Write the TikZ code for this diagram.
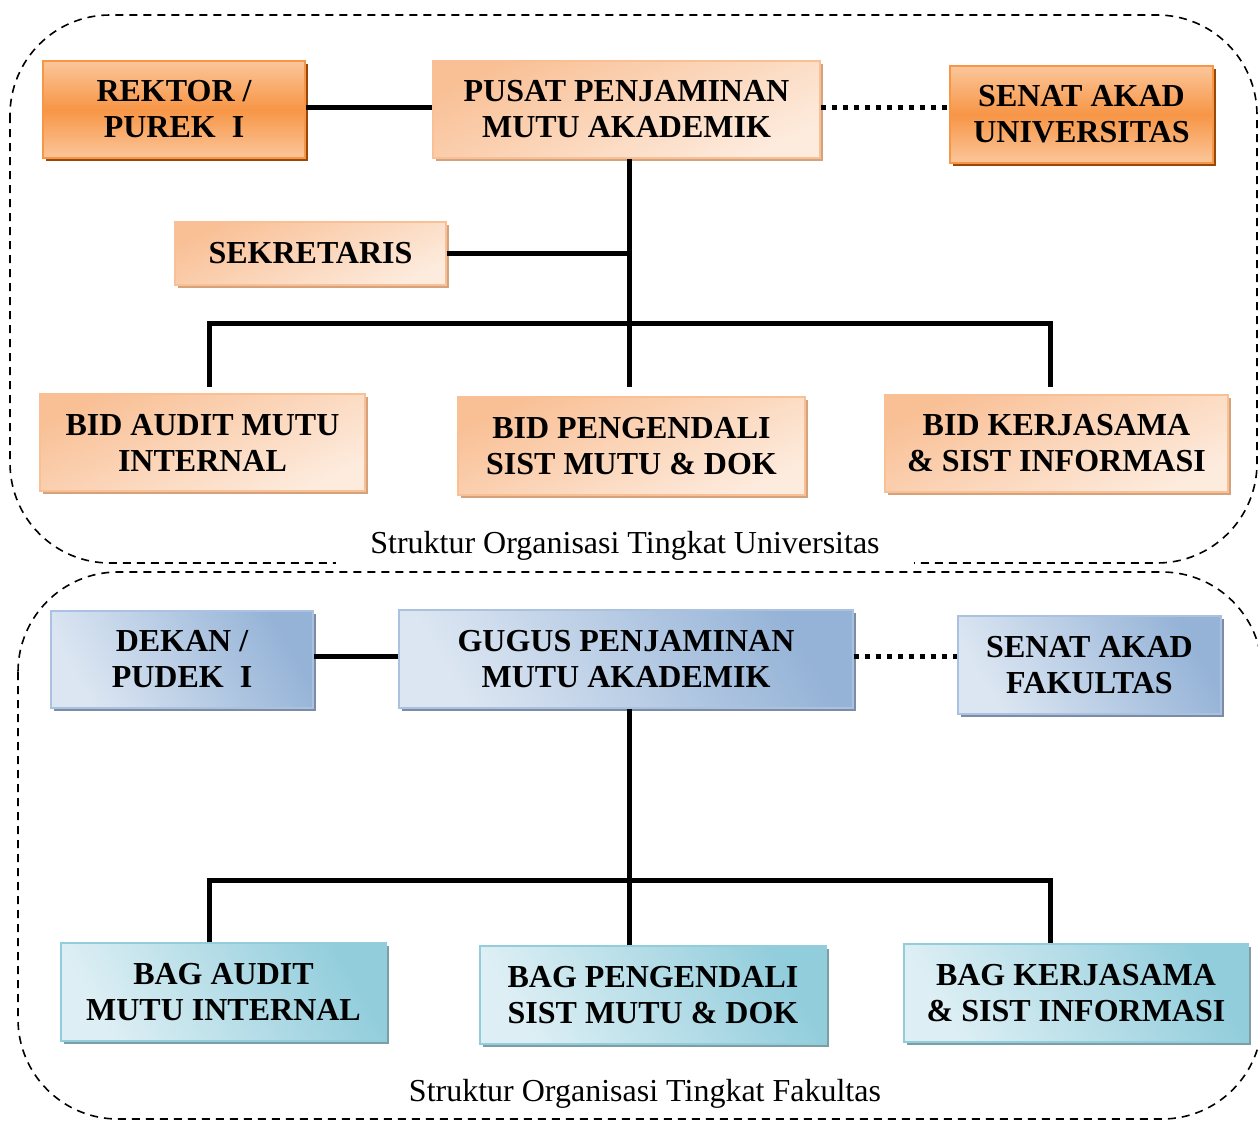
\documentclass[tikz,border=0pt]{standalone}
\usepackage{fontspec}
\setmainfont{Liberation Serif}[BoldFont={Liberation Serif Bold}]
\usetikzlibrary{shadows}
\definecolor{orgA}{HTML}{F79646}
\definecolor{orgL}{HTML}{FBC69A}
\definecolor{orgS}{HTML}{984807}
\definecolor{pchD}{HTML}{F9C096}
\definecolor{pchL}{HTML}{FDEBDD}
\definecolor{pchS}{HTML}{D6A27C}
\definecolor{bluD}{HTML}{95B3D7}
\definecolor{bluL}{HTML}{DCE6F2}
\definecolor{bluS}{HTML}{7D8CA6}
\definecolor{aquD}{HTML}{92CDDC}
\definecolor{aquL}{HTML}{DDEFF4}
\definecolor{aquS}{HTML}{7E9EA6}
\tikzset{
  box/.style={inner sep=0pt, align=center, font=\bfseries\fontsize{16}{18}\selectfont, text=black, line width=0.6pt},
  orgbox/.style={box, draw=orgA, top color=orgL, bottom color=orgL, middle color=orgA,
    general shadow={fill=orgS, shadow xshift=1.6pt, shadow yshift=-1.6pt}},
  pchbox/.style={box, draw=pchD, shading=axis, top color=pchD, bottom color=pchL, shading angle=25,
    general shadow={fill=pchS, shadow xshift=1.6pt, shadow yshift=-1.6pt}},
  blubox/.style={box, draw=bluD!80, shading=axis, top color=bluD, bottom color=bluL, shading angle=-60,
    general shadow={fill=bluS, shadow xshift=1.6pt, shadow yshift=-1.6pt}},
  aqubox/.style={box, draw=aquD, shading=axis, top color=aquD, bottom color=aquL, shading angle=-60,
    general shadow={fill=aquS, shadow xshift=1.6pt, shadow yshift=-1.6pt}},
  link/.style={line width=2.5pt, black},
  dotlink/.style={line width=2.5pt, black, dash pattern=on 2.5pt off 3pt},
  frame/.style={line width=0.8pt, dash pattern=on 4pt off 3pt, rounded corners=50pt},
  caption/.style={font=\fontsize{16}{18}\selectfont, inner xsep=17pt, inner ysep=4pt}
}
\begin{document}
\begin{tikzpicture}[x=0.5pt,y=-0.5pt]
\useasboundingbox (0,0) rectangle (1258,1120);
% frames
\draw[frame] (10,15) rectangle (1257,563);
\draw[frame] (18,572) rectangle (1262,1119);
\node[caption, fill=white] (cap1) at (625,546) {Struktur Organisasi Tingkat Universitas};
\node[caption] (cap2) at (645,1094) {Struktur Organisasi Tingkat Fakultas};
% university level
\node[orgbox, minimum width=131pt, minimum height=48.5pt] (rektor) at (174,109.5) {REKTOR /\\PUREK\ \ I};
\node[pchbox, minimum width=193.5pt, minimum height=48.5pt] (pusat) at (626.5,109.5) {PUSAT PENJAMINAN\\MUTU AKADEMIK};
\node[orgbox, minimum width=131.5pt, minimum height=48.5pt] (senatu) at (1081.5,114.5) {SENAT AKAD\\UNIVERSITAS};
\node[pchbox, minimum width=135.5pt, minimum height=31.5pt] (sek) at (310.5,253.5) {SEKRETARIS};
\node[pchbox, minimum width=162.5pt, minimum height=48.5pt] (bid1) at (202.5,442.5) {BID AUDIT MUTU\\INTERNAL};
\node[pchbox, minimum width=173.5pt, minimum height=49pt] (bid2) at (631.5,446) {BID PENGENDALI\\SIST MUTU \& DOK};
\node[pchbox, minimum width=171.5pt, minimum height=48.5pt] (bid3) at (1056.5,443.5) {BID KERJASAMA\\\& SIST INFORMASI};
\coordinate (ju) at (629,323);
\coordinate (jul) at (209,323);
\coordinate (jur) at (1050,323);
\draw[link] (rektor.east |- 0,107) -- (pusat.west |- 0,107);
\draw[dotlink] (pusat.east |- 0,107) -- (senatu.west |- 0,107);
\draw[link] (pusat.south -| ju) -- (ju |- 0,387);
\draw[link] (sek.east) -- (sek.east -| ju);
\draw[link] (jul |- 0,387) -- (jul) -- (jur) -- (jur |- 0,387);
% faculty level
\node[blubox, minimum width=131pt, minimum height=48.5pt] (dekan) at (182,659.5) {DEKAN /\\PUDEK\ \ I};
\node[blubox, minimum width=227pt, minimum height=49pt] (gugus) at (626,659) {GUGUS PENJAMINAN\\MUTU AKADEMIK};
\node[blubox, minimum width=131.5pt, minimum height=49pt] (senatf) at (1089.5,665) {SENAT AKAD\\FAKULTAS};
\node[aqubox, minimum width=162.5pt, minimum height=49pt] (bag1) at (223.5,992) {BAG AUDIT\\MUTU INTERNAL};
\node[aqubox, minimum width=173pt, minimum height=49pt] (bag2) at (653,995) {BAG PENGENDALI\\SIST MUTU \& DOK};
\node[aqubox, minimum width=172pt, minimum height=49pt] (bag3) at (1076,993) {BAG KERJASAMA\\\& SIST INFORMASI};
\coordinate (jf) at (629,880);
\coordinate (jfl) at (209,880);
\coordinate (jfr) at (1050,880);
\draw[link] (dekan.east |- 0,656) -- (gugus.west |- 0,656);
\draw[dotlink] (gugus.east |- 0,656) -- (senatf.west |- 0,656);
\draw[link] (gugus.south -| jf) -- (jf |- bag2.north);
\draw[link] (jfl |- bag1.north) -- (jfl) -- (jfr) -- (jfr |- bag3.north);
\end{tikzpicture}
\end{document}
